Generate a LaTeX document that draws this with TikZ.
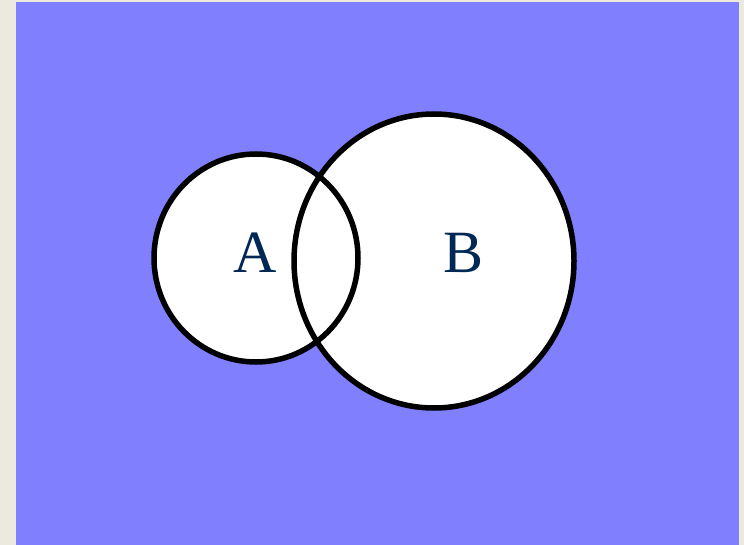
\documentclass[tikz,border=0pt]{standalone}
\usepackage{fontspec}
\setmainfont{Liberation Serif}
\usepackage{xcolor}
\usepackage{tikz}
\usetikzlibrary{positioning}
\definecolor{paper}{RGB}{236,234,222}
\definecolor{venn}{RGB}{128,128,255}
\definecolor{navy}{RGB}{0,40,84}

\begin{document}
\begin{tikzpicture}[x=1pt, y=-1pt, every node/.style={font=\fontsize{60}{72}\selectfont, text=navy},
  setline/.style={line width=5.5pt, draw=black}]
\useasboundingbox (0,0) rectangle (744,545);
\fill[paper] (0,0) rectangle (744,545);
\fill[venn] (16,2) rectangle (739,545);
\fill[white] (256,258) ellipse [x radius=102, y radius=104];
\fill[white] (434,261) ellipse [x radius=140, y radius=147];
\draw[setline] (256,258) ellipse [x radius=102, y radius=104];
\draw[setline] (434,261) ellipse [x radius=140, y radius=147];
\node (labelA) at (255,253) {A};
\node (labelB) at (464,253) {B};
\end{tikzpicture}
\end{document}
